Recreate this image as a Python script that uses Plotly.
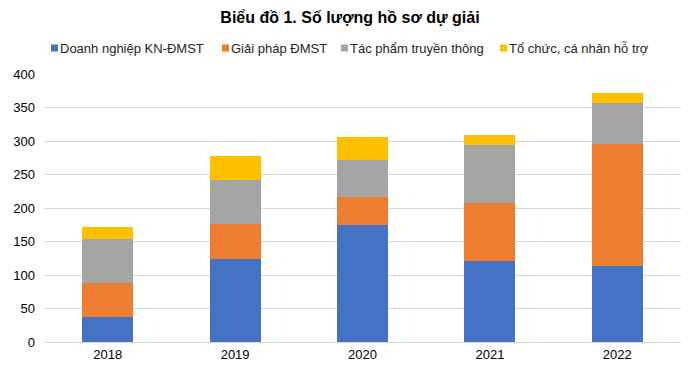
import plotly.graph_objects as go

years = ["2018", "2019", "2020", "2021", "2022"]
doanh_nghiep = [37, 124, 174, 121, 113]
giai_phap = [51, 52, 43, 86, 182]
tac_pham = [66, 66, 54, 87, 61]
to_chuc = [18, 35, 35, 15, 15]

names = ["Doanh nghiệp KN-ĐMST", "Giải pháp ĐMST", "Tác phẩm truyền thông", "Tổ chức, cá nhân hỗ trợ"]
values = [doanh_nghiep, giai_phap, tac_pham, to_chuc]
colors = ["#4472C4", "#ED7D31", "#A5A5A5", "#FFC000"]

W, H = 700, 373
ML, MR, MT, MB = 44, 19, 74, 31
PW, PH = W - ML - MR, H - MT - MB

def px_x(px):
    return (px - ML) / PW

def px_y(py):
    return (H - MB - py) / PH

fig = go.Figure()
for name, vals, color in zip(names, values, colors):
    fig.add_trace(go.Bar(x=years, y=vals, name=name, showlegend=False,
                         marker=dict(color=color, line=dict(width=0))))

# Manual legend (compact, like the reference)
legend_square_left = [51, 222, 341, 500]
legend_y = 48
for name, color, sx in zip(names, colors, legend_square_left):
    fig.add_shape(type="rect", xref="paper", yref="paper",
                  x0=px_x(sx), x1=px_x(sx + 7), y0=px_y(legend_y + 3.5), y1=px_y(legend_y - 3.5),
                  fillcolor=color, line=dict(width=0))
    fig.add_annotation(xref="paper", yref="paper", x=px_x(sx + 7), y=px_y(legend_y),
                       xanchor="left", yanchor="middle", text=name, showarrow=False,
                       font=dict(family="Liberation Sans, Arial", size=13, color="#262626"))

fig.update_layout(
    barmode="stack",
    bargap=0.6,
    width=W, height=H,
    margin=dict(l=ML, r=MR, t=MT, b=MB),
    paper_bgcolor="white", plot_bgcolor="white",
    font=dict(family="Liberation Sans, Arial", size=13, color="#262626"),
    title=dict(text="<b>Biểu đồ 1. Số lượng hồ sơ dự giải</b>", x=0.5, xanchor="center",
               y=1 - 17.5 / H, yanchor="middle",
               font=dict(size=16, color="#000000")),
    showlegend=False,
)
fig.update_yaxes(range=[0, 400], dtick=50, showgrid=True, gridcolor="#D9D9D9", gridwidth=1,
                 zeroline=False, showline=False, tickfont=dict(size=13, color="#000000"),
                 ticks="", ticklabelstandoff=8)
fig.update_xaxes(showline=True, linecolor="#D9D9D9", linewidth=1,
                 tickfont=dict(size=13, color="#000000"), ticks="")

fig.write_html("out.html", config={"displayModeBar": False},
               post_script="document.body.style.margin='0';")
